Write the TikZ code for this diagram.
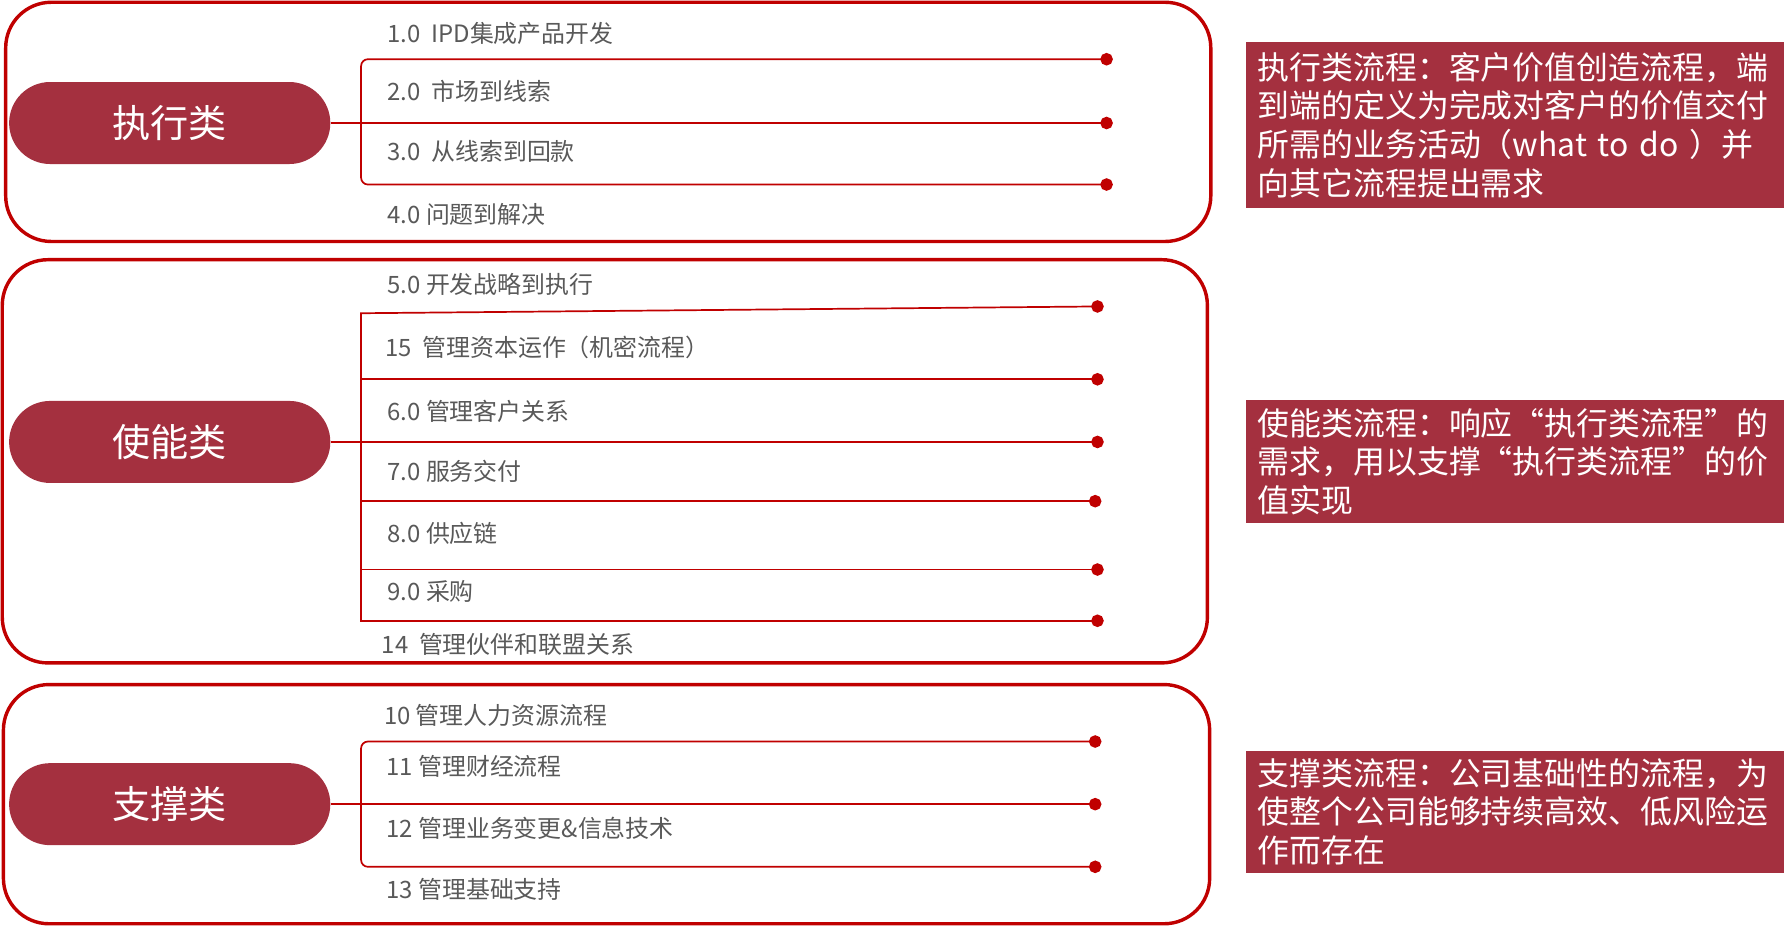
\documentclass[tikz,border=0pt]{standalone}
\usepackage{fontspec}
\setmainfont{Noto Sans CJK SC}
\usetikzlibrary{arrows.meta}
\definecolor{boxred}{HTML}{C00000}
\definecolor{pillred}{HTML}{A4303F}
\definecolor{labelgray}{HTML}{595959}

\begin{document}
\begin{tikzpicture}[
  x=1pt, y=-1pt,
  frame/.style={draw=boxred,line width=3pt,rounded corners=40pt},
  pill/.style={fill=pillred,text=white,rounded corners=36pt,minimum width=282pt,minimum height=72pt,font=\fontsize{33.5}{38}\selectfont},
  item/.style={anchor=west,text=labelgray,inner sep=0pt,font=\fontsize{21}{25}\selectfont},
  note/.style={fill=pillred,text=white,anchor=north west,align=left,text width=452pt,inner xsep=10pt,inner ysep=0pt,font=\fontsize{28}{34}\selectfont},
  link/.style={draw=boxred,line width=1.5pt,-{Circle[length=11pt]}}
]
\useasboundingbox (0,0) rectangle (1568,813);

% frames
\draw[frame] (5,2) rectangle (1063,212);
\draw[frame] (2,228) rectangle (1060,582);
\draw[frame] (3,601) rectangle (1062,811);

% execution group
\node[pill] (zhixing) at (149,108) {执行类};
\coordinate (zxbar) at (317,108);
\coordinate (a1) at (977,52);
\coordinate (a2) at (977,108);
\coordinate (a3) at (977,162);
\draw[link,rounded corners=6pt] (zxbar) |- (a1);
\draw[link] (zhixing.east) -- (a2);
\draw[link,rounded corners=6pt] (zxbar) |- (a3);
\node[item] (p1) at (340,29) {1.0~~IPD集成产品开发};
\node[item] (p2) at (340,80) {2.0~~市场到线索};
\node[item] (p3) at (340,133) {3.0~~从线索到回款};
\node[item] (p4) at (340,188) {4.0 问题到解决};

% enabling group
\node[pill] (shineng) at (149,388) {使能类};
\coordinate (snbar) at (317,388);
\coordinate (sntop) at (317,275);
\coordinate (b1) at (969,269);
\coordinate (b2) at (969,333);
\coordinate (b3) at (969,388);
\coordinate (b4) at (967,440);
\coordinate (b5) at (969,500);
\coordinate (b6) at (969,545);
\draw[link] (snbar) -- (sntop) -- (b1);
\draw[link] (snbar |- b2) -- (b2);
\draw[link] (shineng.east) -- (b3);
\draw[link] (snbar |- b4) -- (b4);
\draw[link] (snbar |- b5) -- (b5);
\draw[link] (snbar) |- (b6);
\node[item] (p5) at (340,250) {5.0 开发战略到执行};
\node[item] (p15) at (338,305) {15~~管理资本运作（机密流程）};
\node[item] (p6) at (340,361) {6.0 管理客户关系};
\node[item] (p7) at (340,414) {7.0 服务交付};
\node[item] (p8) at (340,468) {8.0 供应链};
\node[item] (p9) at (340,519) {9.0 采购};
\node[item] (p14) at (335,566) {14~~管理伙伴和联盟关系};

% support group
\node[pill] (zhicheng) at (149,706) {支撑类};
\coordinate (zcbar) at (317,706);
\coordinate (c1) at (967,651);
\coordinate (c2) at (967,706);
\coordinate (c3) at (967,761);
\draw[link,rounded corners=6pt] (zcbar) |- (c1);
\draw[link] (zhicheng.east) -- (c2);
\draw[link,rounded corners=6pt] (zcbar) |- (c3);
\node[item] (p10) at (337,628) {10 管理人力资源流程};
\node[item] (p11) at (339,673) {11 管理财经流程};
\node[item] (p12) at (339,727) {12 管理业务变更\&信息技术};
\node[item] (p13) at (339,781) {13 管理基础支持};

% notes
\node[note,minimum height=145pt] (n1) at (1094,37) {执行类流程：客户价值创造流程，端\\到端的定义为完成对客户的价值交付\\所需的业务活动（what to do ）并\\向其它流程提出需求};
\node[note,minimum height=108pt] (n2) at (1094,351) {使能类流程：响应“执行类流程”的\\需求，用以支撑“执行类流程”的价\\值实现};
\node[note,minimum height=107pt] (n3) at (1094,659) {支撑类流程：公司基础性的流程，为\\使整个公司能够持续高效、低风险运\\作而存在};
\end{tikzpicture}
\end{document}
